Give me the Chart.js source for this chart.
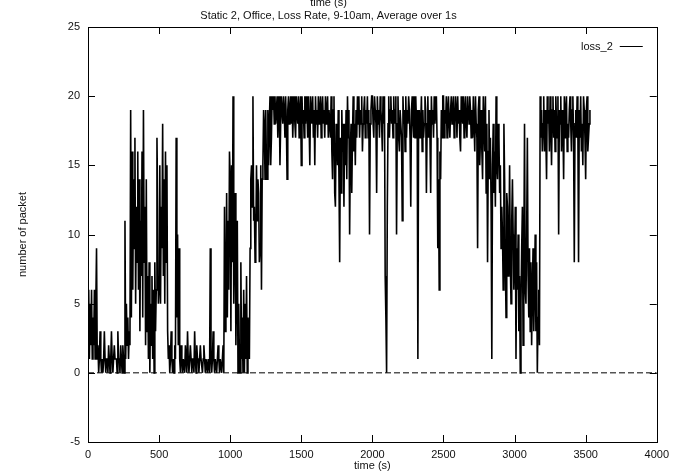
<!DOCTYPE html>
<html>
<head>
<meta charset="utf-8">
<script src="https://cdn.jsdelivr.net/npm/chart.js@4"></script>
<style>
  html, body { margin: 0; padding: 0; background: #fff; }
  canvas { display: block; }
</style>
</head>
<body>
<canvas id="lossChart" width="675" height="476"></canvas>
<script>
// one sample every 5 s (20 values per 100 s row)
const sampleInterval = 5;
const loss2 = [
  3, 6, 1, 5, 2, 6, 1, 4, 2, 6, 1, 5, 9, 1, 2, 0, 1, 3, 1, 0,                 // 0
  1, 0, 1, 3, 1, 0, 1, 1, 0, 2, 1, 0, 1, 3, 1, 0, 1, 2, 1, 1,                 // 100
  1, 0, 3, 1, 1, 0, 2, 1, 0, 2, 1, 0, 11, 1, 5, 2, 4, 1, 3, 2,                // 200
  19, 4, 16, 6, 14, 9, 17, 5, 12, 8, 16, 6, 14, 3, 11, 7, 16, 4, 19, 8,       // 300
  12, 2, 14, 3, 7, 1, 8, 0, 5, 2, 7, 1, 6, 0, 8, 3, 6, 17, 12, 5,             // 400
  6, 15, 5, 12, 9, 18, 7, 14, 5, 16, 8, 15, 3, 1, 2, 0, 1, 3, 1, 0,           // 500
  1, 0, 2, 1, 17, 4, 10, 2, 9, 1, 0, 2, 1, 0, 1, 1, 0, 2, 1, 0,               // 600
  3, 1, 0, 1, 2, 1, 0, 1, 1, 0, 3, 1, 0, 2, 1, 1, 0, 1, 2, 1,                 // 700
  1, 0, 1, 2, 1, 0, 1, 1, 0, 1, 1, 0, 9, 1, 0, 1, 3, 1, 0, 1,                 // 800
  1, 0, 1, 2, 1, 0, 1, 1, 0, 1, 2, 0, 12, 3, 5, 13, 4, 11, 6, 16,             // 900
  14, 3, 15, 8, 20, 5, 9, 13, 2, 6, 11, 0, 5, 1, 0, 8, 1, 4, 0, 6,            // 1000
  0, 5, 1, 7, 0, 4, 2, 1, 9, 14, 15, 12, 20, 11, 12, 8, 9, 15, 11, 14,        // 1100
  13, 8, 9, 15, 6, 14, 15, 19, 18, 14, 19, 15, 14, 19, 15, 18, 20, 15, 17, 20,// 1200
  19, 20, 18, 20, 18, 19, 20, 17, 19, 20, 15, 18, 20, 19, 18, 20, 19, 17, 20, 18,
  14, 19, 20, 18, 19, 20, 18, 20, 17, 19, 20, 18, 17, 20, 19, 18, 20, 17, 19, 20,
  15, 20, 18, 19, 17, 20, 18, 20, 19, 17, 20, 18, 15, 20, 19, 18, 20, 17, 19, 15,
  20, 18, 19, 17, 20, 18, 19, 20, 17, 19, 20, 18, 19, 17, 20, 18, 19, 20, 17, 19,
  19, 17, 20, 16, 14, 19, 20, 13, 12, 18, 17, 15, 19, 14, 8, 17, 13, 19, 16, 18,
  12, 18, 15, 19, 14, 20, 17, 19, 10, 16, 18, 13, 17, 20, 16, 18, 15, 19, 17, 20,
  18, 20, 17, 19, 18, 20, 16, 18, 19, 20, 17, 19, 18, 20, 17, 19, 10, 18, 19, 20,
  20, 18, 17, 20, 19, 18, 13, 20, 18, 19, 17, 20, 19, 18, 16, 20, 18, 20, 7, 4, // 2000
  0, 12, 18, 20, 17, 19, 20, 18, 19, 17, 20, 18, 19, 20, 10, 18, 20, 17, 16, 19,
  19, 17, 11, 20, 18, 19, 16, 20, 17, 19, 18, 20, 19, 17, 12, 19, 20, 18, 17, 20,
  17, 20, 18, 19, 1, 18, 19, 17, 18, 20, 16, 19, 17, 18, 20, 19, 13, 18, 20, 17,
  19, 17, 13, 20, 18, 19, 17, 20, 18, 19, 20, 17, 9, 14, 6, 16, 14, 19, 17, 20,
  20, 17, 19, 18, 20, 17, 19, 20, 18, 17, 19, 20, 18, 19, 20, 17, 18, 20, 19, 17,
  20, 18, 19, 17, 16, 20, 19, 18, 20, 17, 19, 20, 18, 17, 20, 19, 18, 20, 19, 17,
  19, 17, 20, 18, 16, 20, 18, 17, 9, 19, 20, 15, 17, 19, 16, 14, 20, 18, 16, 20,
  13, 18, 8, 16, 19, 14, 17, 12, 1, 15, 18, 13, 16, 12, 20, 15, 14, 18, 17, 13,
  15, 9, 12, 10, 6, 18, 14, 8, 4, 13, 12, 7, 9, 15, 8, 5, 11, 14, 10, 6,
  8, 12, 1, 9, 6, 10, 3, 7, 0, 5, 9, 12, 2, 8, 18, 6, 5, 10, 17, 7,           // 3000
  4, 9, 3, 8, 2, 6, 9, 3, 6, 10, 3, 8, 0, 4, 6, 2, 20, 17, 19, 16,
  18, 20, 16, 19, 17, 14, 20, 18, 19, 16, 20, 18, 15, 19, 20, 17, 19, 16, 20, 18,
  17, 20, 10, 19, 18, 20, 16, 19, 18, 14, 20, 17, 19, 20, 16, 18, 17, 19, 20, 18,
  16, 19, 20, 17, 8, 18, 19, 17, 20, 18, 8, 19, 17, 20, 16, 18, 15, 20, 19, 17,
  14, 19, 20, 16, 17, 18, 19                                                  // 3500
];
const zeroLine = [{ x: 0, y: 0 }, { x: 4000, y: 0 }];

const FONT = 'Liberation Sans, Arial, sans-serif';
const INK = '#111';

// gnuplot style frame, inward ticks and key inside the plot
const gnuplotFrame = {
  id: 'gnuplotFrame',
  afterDraw(chart) {
    const ctx = chart.ctx;
    const a = chart.chartArea;
    const xs = chart.scales.x, ys = chart.scales.y;
    const len = 7;
    ctx.save();
    ctx.strokeStyle = '#000';
    ctx.lineWidth = 1;
    ctx.strokeRect(Math.round(a.left) + 0.5, Math.round(a.top) + 0.5,
      Math.round(a.right - a.left), Math.round(a.bottom - a.top));
    ctx.beginPath();
    xs.ticks.forEach(t => {
      const px = Math.round(xs.getPixelForValue(t.value)) + 0.5;
      ctx.moveTo(px, a.bottom); ctx.lineTo(px, a.bottom - len);
      ctx.moveTo(px, a.top); ctx.lineTo(px, a.top + len);
    });
    ys.ticks.forEach(t => {
      const py = Math.round(ys.getPixelForValue(t.value)) + 0.5;
      ctx.moveTo(a.left, py); ctx.lineTo(a.left + len, py);
      ctx.moveTo(a.right, py); ctx.lineTo(a.right - len, py);
    });
    ctx.stroke();

    // key
    const ds = chart.data.datasets[0];
    const ky = a.top + 19.5;
    ctx.font = '11px ' + FONT;
    ctx.fillStyle = INK;
    ctx.textAlign = 'right';
    ctx.textBaseline = 'middle';
    ctx.fillText(ds.label, a.right - 44, ky);
    ctx.strokeStyle = ds.borderColor;
    ctx.lineWidth = 1;
    ctx.beginPath();
    ctx.moveTo(a.right - 37, ky); ctx.lineTo(a.right - 14, ky);
    ctx.stroke();
    ctx.restore();
  }
};

new Chart(document.getElementById('lossChart'), {
  type: 'line',
  data: {
    datasets: [{
      label: 'loss_2',
      data: loss2.map((v, i) => ({ x: i * sampleInterval, y: v })),
      borderColor: '#000',
      borderWidth: 1.6,
      pointRadius: 0,
      tension: 0
    }, {
      label: 'zero',
      data: zeroLine,
      borderColor: '#000',
      borderWidth: 1,
      borderDash: [6, 3],
      pointRadius: 0
    }]
  },
  options: {
    responsive: false,
    animation: false,
    devicePixelRatio: 1,
    layout: { padding: { left: 0, right: 18, top: 0, bottom: 0 } },
    plugins: {
      legend: { display: false },
      tooltip: { enabled: false },
      title: {
        display: true,
        text: 'time (s)',
        color: INK,
        font: { family: FONT, size: 11, weight: 'normal' },
        padding: { top: -4, bottom: 0 }
      },
      subtitle: {
        display: true,
        text: 'Static 2, Office, Loss Rate, 9-10am, Average over 1s',
        color: INK,
        font: { family: FONT, size: 11, weight: 'normal' },
        padding: { top: 0, bottom: 4.6 }
      }
    },
    scales: {
      x: {
        type: 'linear',
        min: 0,
        max: 4000,
        grid: { display: false, drawTicks: false },
        border: { display: false },
        ticks: { stepSize: 500, color: INK, padding: 6, maxRotation: 0,
                 font: { family: FONT, size: 11 },
                 callback: v => String(v) },
        title: { display: true, text: 'time (s)', color: INK,
                 font: { family: FONT, size: 11 }, padding: { top: 0, bottom: 3.4 } },
        afterFit(scale) { scale.height = 34; }
      },
      y: {
        min: -5,
        max: 25,
        grid: { display: false, drawTicks: false },
        border: { display: false },
        ticks: { stepSize: 5, color: INK, padding: 8,
                 font: { family: FONT, size: 11 },
                 callback: v => String(v) },
        title: { display: true, text: 'number of packet', color: INK,
                 font: { family: FONT, size: 11 }, padding: { top: 16, bottom: 0 } },
        afterFit(scale) { scale.width = 88; }
      }
    }
  },
  plugins: [gnuplotFrame]
});
</script>
</body>
</html>
